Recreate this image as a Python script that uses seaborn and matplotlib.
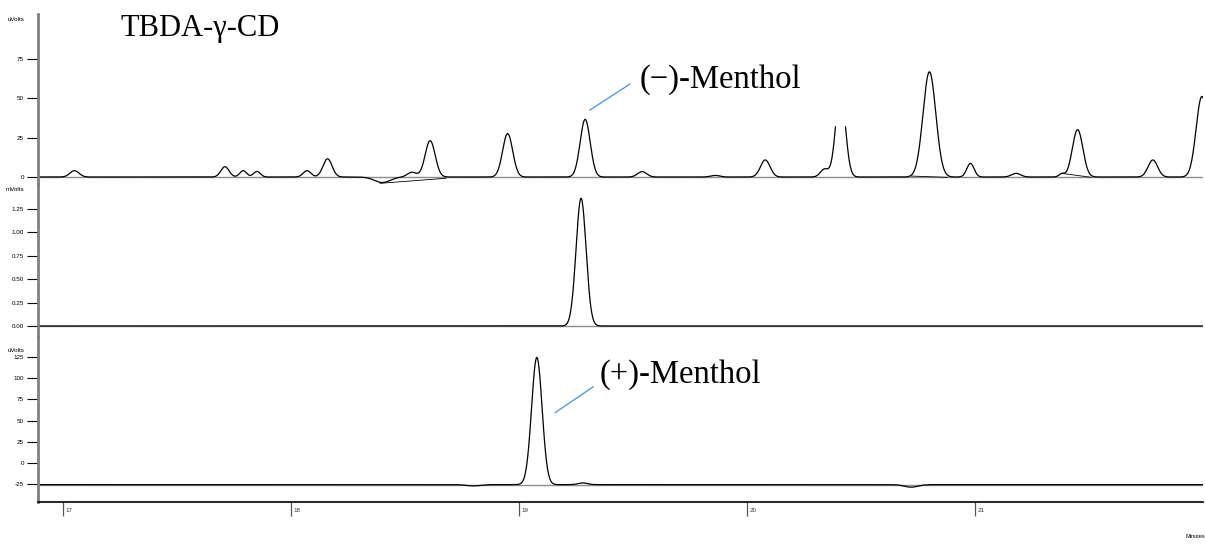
import numpy as np
import pandas as pd
import seaborn as sns
import matplotlib.pyplot as plt

sns.set_theme(style="white")
plt.rcParams['font.family'] = ['Liberation Sans', 'DejaVu Sans']
plt.rcParams['text.color'] = 'black'

# time window (minutes)
t_start, t_end = 16.89, 22.0
x_ticks = [17, 18, 19, 20, 21]

# top trace (FID, uVolts): peak centre, height, width
top_t = [17.05, 17.71, 17.79, 17.85, 18.07, 18.16, 18.40, 18.53, 18.61, 18.95, 19.29,
         19.54, 19.86, 20.08, 20.34, 20.41, 20.80, 20.98, 21.18, 21.38, 21.45, 21.78, 21.995]
top_h = [4, 6.5, 4, 3.5, 4, 11.5, -3.5, 3, 23, 27.5, 36.5,
         3.4, 1, 10.8, 5, 55, 66.6, 8.6, 2.3, 2, 30, 10.8, 51]
top_w = [0.02, 0.018, 0.015, 0.015, 0.017, 0.02, 0.035, 0.02, 0.022, 0.022, 0.022,
         0.02, 0.02, 0.021, 0.018, 0.021, 0.028, 0.016, 0.02, 0.012, 0.023, 0.021, 0.025]
# the peak at 20.41 runs off-scale and is cut at this level
top_clip = 32.3
top_clip_window = (20.35, 20.47)
top_ticks = [0, 25, 50, 75]
# integration baselines drawn by the data system
seg_t0 = [18.39, 20.72, 21.38]
seg_v0 = [-4.0, 0.6, 2.3]
seg_t1 = [18.68, 20.88, 21.51]
seg_v1 = [-0.8, -0.2, -0.2]

# middle trace (mVolts)
mid_t = [19.272]
mid_h = [1.364]
mid_w = [0.022]
mid_ticks = [0.00, 0.25, 0.50, 0.75, 1.00, 1.25]

# bottom trace (uVolts)
bot_base = -25.5
bot_t = [18.80, 19.078, 19.28, 20.72]
bot_h = [-1.5, 150, 2, -3]
bot_w = [0.03, 0.023, 0.02, 0.03]
bot_ticks = [-25, 0, 25, 50, 75, 100, 125]

t = np.linspace(t_start, t_end, 5000)


def trace(cs, hs, ws, base=0.0, clip=None, window=None):
    v = np.full_like(t, base)
    for c, h, w in zip(cs, hs, ws):
        v += h * np.exp(-0.5 * ((t - c) / w) ** 2)
    if clip is not None:
        cut = (v > clip) & (t > window[0]) & (t < window[1])
        v[cut] = np.nan
    df = pd.DataFrame({'t': t, 'v': v})
    df['seg'] = df['v'].isna().cumsum()
    return df.dropna()


df_top = trace(top_t, top_h, top_w, clip=top_clip, window=top_clip_window)
df_mid = trace(mid_t, mid_h, mid_w)
df_bot = trace(bot_t, bot_h, bot_w, base=bot_base)

W, H = 1205, 545
fig = plt.figure(figsize=(W / 100, H / 100), dpi=100)
L, R = 38 / W, 1203 / W


def box(top, bot):
    return [L, 1 - bot / H, R - L, (bot - top) / H]


ax_top = fig.add_axes(box(14, 184))
ax_mid = fig.add_axes(box(184, 336), sharex=ax_top)
ax_bot = fig.add_axes(box(336, 502), sharex=ax_top)

panels = [
    (ax_top, df_top, 0, (-4.43, 103.2), top_ticks, [str(v) for v in top_ticks], 'uVolts', 100),
    (ax_mid, df_mid, 0, (-0.107, 1.517), mid_ticks, ['%.2f' % v for v in mid_ticks], 'mVolts', 1.453),
    (ax_bot, df_bot, bot_base, (-46, 149.8), bot_ticks, [str(v) for v in bot_ticks], 'uVolts', 133),
]

for ax, df, base, ylim, ticks, labels, unit, unit_y in panels:
    ax.axhline(base, color='#8c8c8c', lw=1.0, zorder=1)
    sns.lineplot(data=df, x='t', y='v', units='seg', estimator=None, sort=False,
                 color='black', lw=0.9, ax=ax, zorder=2)
    ax.set_xlim(t_start, t_end)
    ax.set_ylim(*ylim)
    ax.set_yticks(ticks)
    ax.set_yticklabels(labels)
    ax.set_xlabel('')
    ax.set_ylabel('')
    ax.tick_params(axis='y', direction='out', length=8, width=0.8, color='black',
                   labelsize=4.5, labelcolor='black', pad=2, left=True)
    ax.tick_params(axis='x', bottom=False, labelbottom=False)
    for side in ['top', 'right', 'bottom']:
        ax.spines[side].set_visible(False)
    ax.spines['left'].set_color('#808080')
    ax.spines['left'].set_linewidth(2)
    ax.text(-0.012, unit_y, unit, transform=ax.get_yaxis_transform(),
            ha='right', va='center', fontsize=4.5)
    ax.patch.set_alpha(0)

for a, b, c, d in zip(seg_t0, seg_v0, seg_t1, seg_v1):
    ax_top.plot([a, c], [b, d], color='black', lw=0.6)

# time axis
ax_bot.spines['bottom'].set_visible(True)
ax_bot.spines['bottom'].set_color('black')
ax_bot.spines['bottom'].set_linewidth(1.2)
ax_bot.set_xticks(x_ticks)
ax_bot.tick_params(axis='x', bottom=True, direction='out', length=10, width=0.9,
                   color='#555555', labelbottom=False)
for xt in x_ticks:
    ax_bot.text(xt + 0.012, -0.05, str(xt), transform=ax_bot.get_xaxis_transform(),
                ha='left', va='center', fontsize=4.5, color='#333333')
fig.text(1195 / W, 1 - 537 / H, 'Minutes', ha='center', va='center', fontsize=4)

# labels
serif = ['Liberation Serif', 'DejaVu Serif']
blue = '#5B9BD5'
ax_top.text(17.25, 94.3, 'TBDA-γ-CD', family=serif, fontsize=22, va='center')
ax_top.plot([19.311, 19.487], [42.4, 58.9], color=blue, lw=1)
ax_top.text(19.53, 61.4, '(−)-Menthol', family=serif, fontsize=23.5, va='center')
ax_bot.plot([19.158, 19.326], [59.3, 90], color=blue, lw=1)
ax_bot.text(19.355, 103.8, '(+)-Menthol', family=serif, fontsize=23.5, va='center')

fig.savefig('out.png', dpi=100)
